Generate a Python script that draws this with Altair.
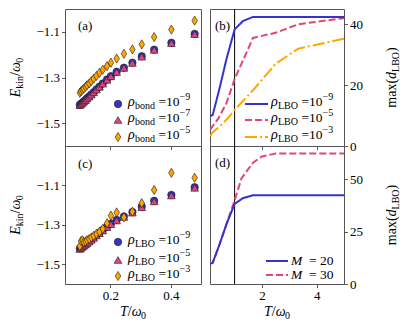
import altair as alt
import pandas as pd

FONT = "Liberation Serif"
BLUE = "#3434cc"
PINK = "#e0457b"
ORANGE = "#ffa500"
EDGE = "#1a1a1a"

# ---------------- data ----------------
T_pts = [0.099, 0.103, 0.108, 0.112, 0.118, 0.123, 0.130, 0.137, 0.145, 0.154, 0.164,
         0.175, 0.189, 0.202, 0.221, 0.245, 0.273, 0.304, 0.345, 0.402, 0.479]

# panel (a): rho_bond
E_bond_m9 = [-1.420, -1.415, -1.410, -1.405, -1.398, -1.391, -1.383, -1.374, -1.364, -1.352, -1.340,
             -1.326, -1.309, -1.294, -1.275, -1.257, -1.235, -1.207, -1.178, -1.148, -1.109]
E_bond_m7 = [-1.421, -1.416, -1.411, -1.405, -1.399, -1.392, -1.384, -1.375, -1.365, -1.353, -1.341,
             -1.327, -1.310, -1.295, -1.276, -1.258, -1.236, -1.209, -1.179, -1.149, -1.110]
E_bond_m5 = [-1.367, -1.360, -1.354, -1.349, -1.341, -1.334, -1.326, -1.316, -1.305, -1.293, -1.280,
             -1.266, -1.250, -1.235, -1.217, -1.196, -1.177, -1.155, -1.123, -1.090, -1.051]

# panel (c): rho_LBO
E_lbo_m9 = [-1.420, -1.415, -1.410, -1.405, -1.398, -1.391, -1.383, -1.374, -1.364, -1.352, -1.340,
            -1.326, -1.309, -1.294, -1.275, -1.257, -1.235, -1.207, -1.178, -1.148, -1.109]
E_lbo_m5 = [-1.422, -1.417, -1.411, -1.406, -1.400, -1.393, -1.385, -1.376, -1.366, -1.354, -1.342,
            -1.329, -1.312, -1.297, -1.278, -1.260, -1.238, -1.211, -1.181, -1.151, -1.112]
E_lbo_m3 = [-1.408, -1.382, -1.378, -1.388, -1.384, -1.377, -1.372, -1.364, -1.356, -1.346, -1.336,
            -1.320, -1.292, -1.253, -1.237, -1.262, -1.233, -1.190, -1.123, -1.036, -1.061]

# panel (b): max(d_LBO) vs T
T_b_m9 = [0.1, 0.2, 0.45, 0.7, 1.0, 1.3, 1.67, 5.0]
D_b_m9 = [9.7, 10.2, 19.0, 28.5, 38.3, 41.0, 42.4, 42.4]
T_b_m5 = [0.1, 0.4, 0.7, 1.0, 1.4, 1.67, 2.5, 3.33, 5.0]
D_b_m5 = [5.3, 9.0, 14.0, 22.0, 30.0, 35.5, 37.2, 40.0, 42.0]
T_b_m3 = [0.1, 0.2, 0.45, 0.75, 1.0, 1.67, 2.5, 3.33, 5.0]
D_b_m3 = [3.2, 4.5, 6.4, 9.1, 11.8, 18.3, 27.0, 32.0, 35.2]

# panel (d): M = 20, 30
T_d_20 = [0.1, 0.2, 0.45, 0.7, 1.0, 1.3, 1.67, 5.0]
D_d_20 = [9.7, 10.2, 19.0, 28.5, 38.3, 41.0, 42.4, 42.4]
T_d_30 = [0.1, 0.2, 0.45, 0.7, 1.0, 1.25, 1.67, 2.0, 2.5, 5.0]
D_d_30 = [9.7, 10.2, 19.0, 28.5, 40.0, 50.5, 58.0, 61.0, 62.4, 62.4]

T_marker = [1.0]

# ---------------- layout ----------------
W_L, W_R = 136, 134
H_TOP, H_BOT = 137, 138

one = pd.DataFrame({"k": [0]})

REG = {' ': 0.25, '(': 0.333, ')': 0.333, '/': 0.278, '=': 0.564, '.': 0.25, '\u2212': 0.564,
       'a': 0.444, 'b': 0.5, 'd': 0.5, 'i': 0.278, 'k': 0.5, 'm': 0.778, 'n': 0.5, 'o': 0.5,
       'x': 0.5, 'L': 0.611, 'B': 0.667, 'O': 0.722, '\u03c1': 0.5, '\u03c9': 0.68}
ITA = {'E': 0.611, 'T': 0.556, 'M': 0.833, 'd': 0.5, '\u03c1': 0.5, '\u03c9': 0.67}


def tw(s, size, italic=False):
    tab = ITA if italic else REG
    return sum(tab.get(c, 0.5) for c in s) * size


def rich(pieces, x, y, angle=0, anchor="left"):
    total = sum(tw(t, s, i) for t, s, i, _ in pieces)
    off = 0 if anchor == "left" else -total / 2
    layers = []
    for t, s, i, sh in pieces:
        lead = len(t) - len(t.lstrip(" "))
        full = tw(t, s, i)
        off_here = off + lead * 0.25 * s
        layers.append(
            alt.Chart(one).mark_text(
                font=FONT, fontSize=s, fontStyle="italic" if i else "normal",
                align="left", baseline="alphabetic", angle=angle, dx=off_here, dy=sh, color="black"
            ).encode(x=alt.value(x), y=alt.value(y), text=alt.value(t.lstrip(" ")))
        )
        off += full
    return layers


def ylab_left(h):
    return rich([("E", 14, True, 0), ("kin", 10, False, 3), ("/", 14, False, 0),
                 ("\u03c9", 14, True, 0), ("0", 10, False, 3)], -45, h / 2, angle=270, anchor="center")


def ylab_right(h):
    return rich([("max(", 14, False, 0), ("d", 14, True, 0), ("LBO", 10, False, 3), (")", 14, False, 0)],
                186, h / 2, angle=270, anchor="center")


def xlab(w, h):
    return rich([("T", 14, True, 0), ("/", 14, False, 0), ("\u03c9", 14, True, 0), ("0", 10, False, 3)],
                w / 2, h + 32, anchor="center")


def legend_entry(name, exp, y, xt):
    return rich([("\u03c1", 14, True, 0), (name, 10, False, 3), (" =10", 13.5, False, 0), (exp, 10, False, -6)],
                xt, y + 2)


DIAMOND = "M0,-1L0.6,0L0,1L-0.6,0Z"
STYLES = {
    "c": dict(shape="circle", size=55, fill=BLUE),
    "t": dict(shape="triangle-up", size=60, fill=PINK),
    "d": dict(shape=DIAMOND, size=85, fill=ORANGE),
}


def pts(T, E, style, xs, ys, ax, ay):
    st = STYLES[style]
    return alt.Chart(pd.DataFrame({"T": T, "E": E})).mark_point(
        shape=st["shape"], size=st["size"], filled=True, fill=st["fill"], opacity=1,
        stroke=EDGE, strokeWidth=0.6
    ).encode(x=alt.X("T:Q", scale=xs, axis=ax), y=alt.Y("E:Q", scale=ys, axis=ay))


def legend_marker(style, x, y):
    st = STYLES[style]
    return alt.Chart(one).mark_point(
        shape=st["shape"], size=st["size"], filled=True, fill=st["fill"], opacity=1,
        stroke=EDGE, strokeWidth=0.6
    ).encode(x=alt.value(x), y=alt.value(y))


def line(T, D, color, dash, xs, ys, ax, ay):
    kw = dict(color=color, strokeWidth=2, clip=True)
    if dash:
        kw["strokeDash"] = dash
    return alt.Chart(pd.DataFrame({"T": T, "D": D})).mark_line(**kw).encode(
        x=alt.X("T:Q", scale=xs, axis=ax), y=alt.Y("D:Q", scale=ys, axis=ay))


def legend_line(color, dash, x1, x2, y):
    kw = dict(color=color, strokeWidth=2)
    if dash:
        kw["strokeDash"] = dash
    return alt.Chart(one).mark_rule(**kw).encode(x=alt.value(x1), x2=alt.value(x2), y=alt.value(y))


def panel_label(t, x, y):
    return alt.Chart(one).mark_text(font=FONT, fontSize=13, align="left", baseline="alphabetic",
                                    color="black").encode(x=alt.value(x), y=alt.value(y), text=alt.value(t))


AX = dict(title=None, domain=False, grid=False, tickSize=3.5, labelPadding=2, labelFlush=False,
          labelOverlap=False)

# scales
xs_left = alt.Scale(domain=[0.05, 0.5], nice=False, zero=False)
ys_a = alt.Scale(domain=[-1.6, -1.0], nice=False, zero=False)
ys_c = alt.Scale(domain=[-1.6, -0.9], nice=False, zero=False)
xs_right = alt.Scale(domain=[0.1, 5.0], nice=False, zero=False)
ys_b = alt.Scale(domain=[0, 45], nice=False)
ys_d = alt.Scale(domain=[0, 66], nice=False)

ax_x_a = alt.Axis(values=[0.2, 0.4], labels=False, **AX)
ax_x_c = alt.Axis(values=[0.2, 0.4], format=".1f", **AX)
ax_y_left = alt.Axis(values=[-1.5, -1.3, -1.1], format=".1f", **AX)
ax_x_b = alt.Axis(values=[2, 4], labels=False, **AX)
ax_x_d = alt.Axis(values=[2, 4], format="d", **AX)
ax_y_b = alt.Axis(values=[0, 20, 40], orient="right", format="d", **AX)
ax_y_d = alt.Axis(values=[0, 25, 50], orient="right", format="d", **AX)

# ---- panel (a)
layers_a = [
    pts(T_pts, E_bond_m9, "c", xs_left, ys_a, ax_x_a, ax_y_left),
    pts(T_pts, E_bond_m7, "t", xs_left, ys_a, ax_x_a, ax_y_left),
    pts(T_pts, E_bond_m5, "d", xs_left, ys_a, ax_x_a, ax_y_left),
    panel_label("(a)", 13, 21),
]
for (sty, exp), yy in zip([("c", "\u22129"), ("t", "\u22127"), ("d", "\u22125")], [95, 111, 128]):
    layers_a.append(legend_marker(sty, 53, yy))
    layers_a += legend_entry("bond", exp, yy, 63)
layers_a += ylab_left(H_TOP)
chart_a = alt.layer(*layers_a).properties(width=W_L, height=H_TOP)

# ---- panel (c)
layers_c = [
    pts(T_pts, E_lbo_m9, "c", xs_left, ys_c, ax_x_c, ax_y_left),
    pts(T_pts, E_lbo_m5, "t", xs_left, ys_c, ax_x_c, ax_y_left),
    pts(T_pts, E_lbo_m3, "d", xs_left, ys_c, ax_x_c, ax_y_left),
    panel_label("(c)", 13, 22),
]
for (sty, exp), yy in zip([("c", "\u22129"), ("t", "\u22125"), ("d", "\u22123")], [96, 114, 130]):
    layers_c.append(legend_marker(sty, 53, yy))
    layers_c += legend_entry("LBO", exp, yy, 63)
layers_c += ylab_left(H_BOT)
layers_c += xlab(W_L, H_BOT)
chart_c = alt.layer(*layers_c).properties(width=W_L, height=H_BOT)

# ---- panel (b)
DASH = [7, 3]
DASHDOT = [12, 3, 2, 3]
layers_b = [
    alt.Chart(pd.DataFrame({"T": T_marker})).mark_rule(color="black", strokeWidth=1).encode(
        x=alt.X("T:Q", scale=xs_right, axis=ax_x_b)),
    line(T_b_m3, D_b_m3, ORANGE, DASHDOT, xs_right, ys_b, ax_x_b, ax_y_b),
    line(T_b_m5, D_b_m5, PINK, DASH, xs_right, ys_b, ax_x_b, ax_y_b),
    line(T_b_m9, D_b_m9, BLUE, None, xs_right, ys_b, ax_x_b, ax_y_b),
    panel_label("(b)", 5, 21),
]
for (col, dsh, exp), yy in zip([(BLUE, None, "\u22129"), (PINK, DASH, "\u22125"), (ORANGE, DASHDOT, "\u22123")],
                               [95, 111, 128]):
    layers_b.append(legend_line(col, dsh, 35, 58, yy))
    layers_b += legend_entry("LBO", exp, yy, 61)
layers_b += ylab_right(H_TOP)
chart_b = alt.layer(*layers_b).properties(width=W_R, height=H_TOP)

# ---- panel (d)
layers_d = [
    alt.Chart(pd.DataFrame({"T": T_marker})).mark_rule(color="black", strokeWidth=1).encode(
        x=alt.X("T:Q", scale=xs_right, axis=ax_x_d)),
    line(T_d_30, D_d_30, PINK, DASH, xs_right, ys_d, ax_x_d, ax_y_d),
    line(T_d_20, D_d_20, BLUE, None, xs_right, ys_d, ax_x_d, ax_y_d),
    panel_label("(d)", 5, 21),
]
for (col, dsh, lab), yy in zip([(BLUE, None, "20"), (PINK, DASH, "30")], [115, 129]):
    layers_d.append(legend_line(col, dsh, 56, 78, yy))
    layers_d += rich([("M", 13.5, True, 0), ("  =  " + lab, 13.5, False, 0)], 81, yy + 4)
layers_d += ylab_right(H_BOT)
layers_d += xlab(W_R, H_BOT)
chart_d = alt.layer(*layers_d).properties(width=W_R, height=H_BOT)

chart = alt.concat(
    chart_a, chart_b, chart_c, chart_d, columns=2,
    spacing={"row": 0, "column": 9}, bounds="flush"
).properties(padding=0).configure_view(
    stroke="#555555", strokeWidth=1
).configure_axis(
    labelFont=FONT, labelFontSize=13, labelColor="black", tickColor="#333333", tickWidth=0.8
)

chart.save("out.html", embed_options={"renderer": "svg", "actions": False})
